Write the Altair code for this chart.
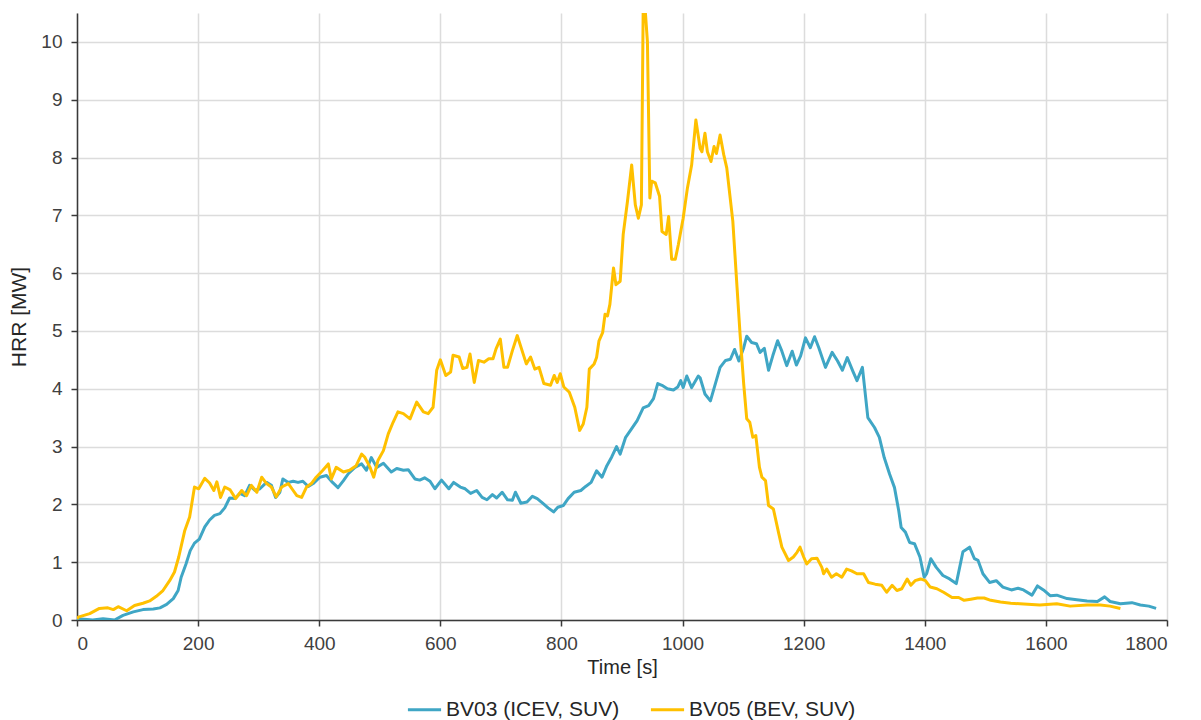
import altair as alt
import pandas as pd

# BV03 (ICEV, SUV)
t_bv03 = [0, 2, 26, 43, 62, 76, 93, 109, 126, 137, 148, 159, 167, 172, 180, 187, 194, 202, 211, 219,
          227, 236, 244, 252, 261, 269, 277, 285, 294, 302, 313, 321, 328, 335, 340, 349, 357, 365, 373, 382,
          390, 401, 412, 422, 431, 440, 448, 459, 470, 478, 486, 495, 506, 519, 528, 539, 547, 558, 566, 574,
          583, 591, 602, 614, 622, 633, 641, 650, 660, 669, 677, 686, 693, 702, 711, 719, 724, 733, 743, 752,
          760, 769, 778, 787, 794, 803, 811, 821, 832, 840, 849, 858, 867, 875, 883, 891, 897, 906, 914, 925,
          935, 944, 952, 959, 966, 975, 985, 992, 997, 1001, 1007, 1015, 1026, 1029, 1037, 1046, 1054, 1062, 1071, 1079,
          1086, 1093, 1101, 1106, 1114, 1122, 1128, 1135, 1142, 1149, 1157, 1164, 1172, 1181, 1188, 1195, 1203, 1211, 1218, 1225,
          1236, 1247, 1256, 1264, 1272, 1281, 1288, 1297, 1306, 1317, 1325, 1333, 1342, 1350, 1357, 1361, 1368, 1375, 1383, 1392,
          1399, 1403, 1410, 1419, 1430, 1441, 1452, 1463, 1474, 1482, 1488, 1496, 1507, 1518, 1529, 1543, 1554, 1563, 1577, 1586,
          1596, 1607, 1618, 1635, 1651, 1668, 1685, 1697, 1706, 1723, 1742, 1756, 1770, 1782]
hrr_bv03 = [0.0, 0.02, 0.0, 0.02, 0.0, 0.08, 0.14, 0.18, 0.19, 0.21, 0.27, 0.37, 0.51, 0.74, 0.97, 1.2, 1.33, 1.4, 1.61, 1.73,
            1.81, 1.84, 1.94, 2.11, 2.1, 2.19, 2.15, 2.33, 2.24, 2.27, 2.38, 2.33, 2.12, 2.21, 2.44, 2.38, 2.4, 2.38, 2.4, 2.31,
            2.36, 2.47, 2.5, 2.38, 2.29, 2.41, 2.53, 2.64, 2.7, 2.59, 2.81, 2.64, 2.71, 2.56, 2.62, 2.59, 2.6, 2.44, 2.42, 2.46,
            2.4, 2.27, 2.42, 2.27, 2.38, 2.3, 2.27, 2.19, 2.24, 2.12, 2.08, 2.17, 2.11, 2.21, 2.08, 2.07, 2.21, 2.02, 2.04, 2.14,
            2.1, 2.02, 1.94, 1.87, 1.95, 1.98, 2.1, 2.21, 2.24, 2.31, 2.38, 2.58, 2.47, 2.67, 2.82, 3.0, 2.87, 3.16, 3.28, 3.45,
            3.67, 3.71, 3.83, 4.09, 4.06, 4.0, 3.98, 4.03, 4.14, 4.02, 4.22, 4.02, 4.22, 4.19, 3.91, 3.79, 4.08, 4.37, 4.49, 4.51,
            4.68, 4.48, 4.71, 4.91, 4.8, 4.78, 4.63, 4.7, 4.32, 4.57, 4.83, 4.65, 4.4, 4.65, 4.41, 4.57, 4.88, 4.71, 4.9, 4.71,
            4.37, 4.63, 4.48, 4.32, 4.54, 4.31, 4.14, 4.37, 3.5, 3.33, 3.16, 2.81, 2.52, 2.29, 1.89, 1.6, 1.52, 1.34, 1.32, 1.09,
            0.74, 0.8, 1.06, 0.91, 0.77, 0.71, 0.63, 1.18, 1.26, 1.06, 1.03, 0.8, 0.65, 0.68, 0.57, 0.52, 0.55, 0.52, 0.43, 0.59,
            0.52, 0.42, 0.43, 0.37, 0.35, 0.33, 0.32, 0.4, 0.32, 0.28, 0.3, 0.26, 0.24, 0.2]

# BV05 (BEV, SUV)
t_bv05 = [0, 2, 21, 37, 51, 60, 68, 82, 95, 109, 120, 131, 142, 153, 161, 168, 178, 186, 194, 201,
          211, 219, 226, 231, 237, 244, 253, 262, 272, 280, 288, 297, 305, 313, 321, 329, 338, 349, 357, 363,
          371, 379, 387, 395, 406, 415, 420, 428, 440, 450, 461, 470, 475, 484, 490, 497, 506, 514, 522, 530,
          539, 550, 561, 572, 580, 588, 594, 600, 609, 617, 621, 631, 637, 644, 649, 656, 663, 672, 680, 687,
          692, 699, 705, 711, 719, 727, 735, 742, 749, 756, 763, 771, 782, 788, 793, 798, 804, 813, 822, 830,
          836, 842, 846, 854, 858, 862, 868, 872, 876, 880, 886, 890, 897, 902, 909, 916, 922, 927, 932, 935,
          938, 942, 946, 949, 955, 962, 966, 973, 977, 982, 988, 993, 1001, 1008, 1015, 1022, 1029, 1032, 1037, 1041,
          1047, 1052, 1056, 1062, 1068, 1073, 1083, 1090, 1095, 1101, 1106, 1111, 1116, 1121, 1127, 1131, 1137, 1142, 1150, 1159,
          1164, 1175, 1183, 1189, 1194, 1200, 1205, 1213, 1222, 1230, 1233, 1238, 1246, 1254, 1263, 1271, 1279, 1288, 1299, 1307,
          1318, 1329, 1337, 1346, 1354, 1362, 1371, 1377, 1384, 1393, 1401, 1409, 1420, 1431, 1445, 1456, 1465, 1476, 1487, 1498,
          1509, 1525, 1542, 1557, 1590, 1618, 1640, 1668, 1690, 1706, 1723]
hrr_bv05 = [0.02, 0.05, 0.11, 0.2, 0.21, 0.18, 0.23, 0.16, 0.25, 0.29, 0.33, 0.41, 0.51, 0.68, 0.83, 1.09, 1.55, 1.78, 2.3, 2.27,
            2.45, 2.37, 2.24, 2.39, 2.12, 2.3, 2.25, 2.1, 2.24, 2.15, 2.33, 2.21, 2.47, 2.36, 2.3, 2.13, 2.3, 2.36, 2.24, 2.15,
            2.12, 2.3, 2.36, 2.47, 2.59, 2.7, 2.44, 2.64, 2.56, 2.59, 2.67, 2.87, 2.82, 2.64, 2.47, 2.76, 2.93, 3.22, 3.42, 3.6,
            3.57, 3.48, 3.77, 3.6, 3.57, 3.68, 4.32, 4.5, 4.23, 4.29, 4.58, 4.55, 4.35, 4.37, 4.6, 4.11, 4.49, 4.46, 4.52, 4.52,
            4.69, 4.86, 4.37, 4.37, 4.66, 4.92, 4.66, 4.43, 4.55, 4.34, 4.37, 4.09, 4.06, 4.23, 4.11, 4.26, 4.03, 3.94, 3.68, 3.28,
            3.39, 3.68, 4.34, 4.43, 4.54, 4.83, 4.97, 5.29, 5.26, 5.46, 6.09, 5.8, 5.86, 6.67, 7.24, 7.87, 7.18, 6.95, 7.18, 10.6,
            10.6, 10.0, 7.3, 7.59, 7.56, 7.33, 6.72, 6.67, 6.98, 6.24, 6.24, 6.49, 6.95, 7.47, 7.87, 8.65, 8.16, 8.1, 8.42, 8.1,
            7.93, 8.19, 8.07, 8.39, 8.05, 7.82, 6.9, 5.75, 4.94, 4.08, 3.48, 3.42, 3.16, 3.19, 2.64, 2.47, 2.41, 1.98, 1.92, 1.49,
            1.26, 1.03, 1.09, 1.17, 1.26, 1.09, 0.97, 1.06, 1.07, 0.91, 0.8, 0.88, 0.74, 0.8, 0.74, 0.88, 0.85, 0.8, 0.8, 0.65,
            0.62, 0.6, 0.48, 0.6, 0.51, 0.54, 0.71, 0.6, 0.68, 0.71, 0.68, 0.57, 0.54, 0.48, 0.39, 0.39, 0.34, 0.36, 0.38, 0.38,
            0.34, 0.31, 0.29, 0.28, 0.26, 0.28, 0.24, 0.26, 0.26, 0.24, 0.2]

series_names = ["BV03 (ICEV, SUV)", "BV05 (BEV, SUV)"]
series_colors = ["#3FA6C5", "#FFC000"]
x_ticks = [0, 200, 400, 600, 800, 1000, 1200, 1400, 1600, 1800]
y_ticks = [0, 1, 2, 3, 4, 5, 6, 7, 8, 9, 10]

df = pd.concat([
    pd.DataFrame({"t": t_bv03, "hrr": hrr_bv03, "series": series_names[0]}),
    pd.DataFrame({"t": t_bv05, "hrr": hrr_bv05, "series": series_names[1]}),
], ignore_index=True)
df["order"] = range(len(df))

FONT = "Liberation Sans"

chart = alt.Chart(df).mark_line(strokeWidth=3, clip=True, strokeJoin="round").encode(
    x=alt.X("t:Q", title="Time [s]",
            scale=alt.Scale(domain=[0, 1800], nice=False, zero=True),
            axis=alt.Axis(values=x_ticks, format="d", tickSize=6, labelPadding=8,
                          titlePadding=4, labelFontSize=19, titleFontSize=20)),
    y=alt.Y("hrr:Q", title="HRR [MW]",
            scale=alt.Scale(domain=[0, 10.5], nice=False),
            axis=alt.Axis(values=y_ticks, tickSize=6, labelPadding=9,
                          titlePadding=11, labelFontSize=19, titleFontSize=21)),
    color=alt.Color("series:N",
                    scale=alt.Scale(domain=series_names, range=series_colors),
                    legend=alt.Legend(title=None, orient="none", direction="horizontal",
                                      legendX=329, legendY=678,
                                      symbolType="stroke", symbolSize=1100, symbolStrokeWidth=3,
                                      labelFontSize=21, labelOffset=3, columnPadding=24,
                                      labelLimit=400)),
    order="order:Q",
).properties(
    width=1090, height=607,
    padding={"left": 0, "top": 5, "right": 5, "bottom": 0},
).configure_view(
    stroke=None
).configure_axis(
    labelFont=FONT, titleFont=FONT, labelColor="#404040", titleColor="#262626",
    titleFontWeight="normal", domainColor="#3a3a3a", domainWidth=1.5,
    tickColor="#3a3a3a", tickWidth=1.5, gridColor="#dcdcdc", gridWidth=1.5,
).configure_legend(
    labelFont=FONT, labelColor="#262626"
)

chart.save("out.html", embed_options={"renderer": "svg", "actions": False})
